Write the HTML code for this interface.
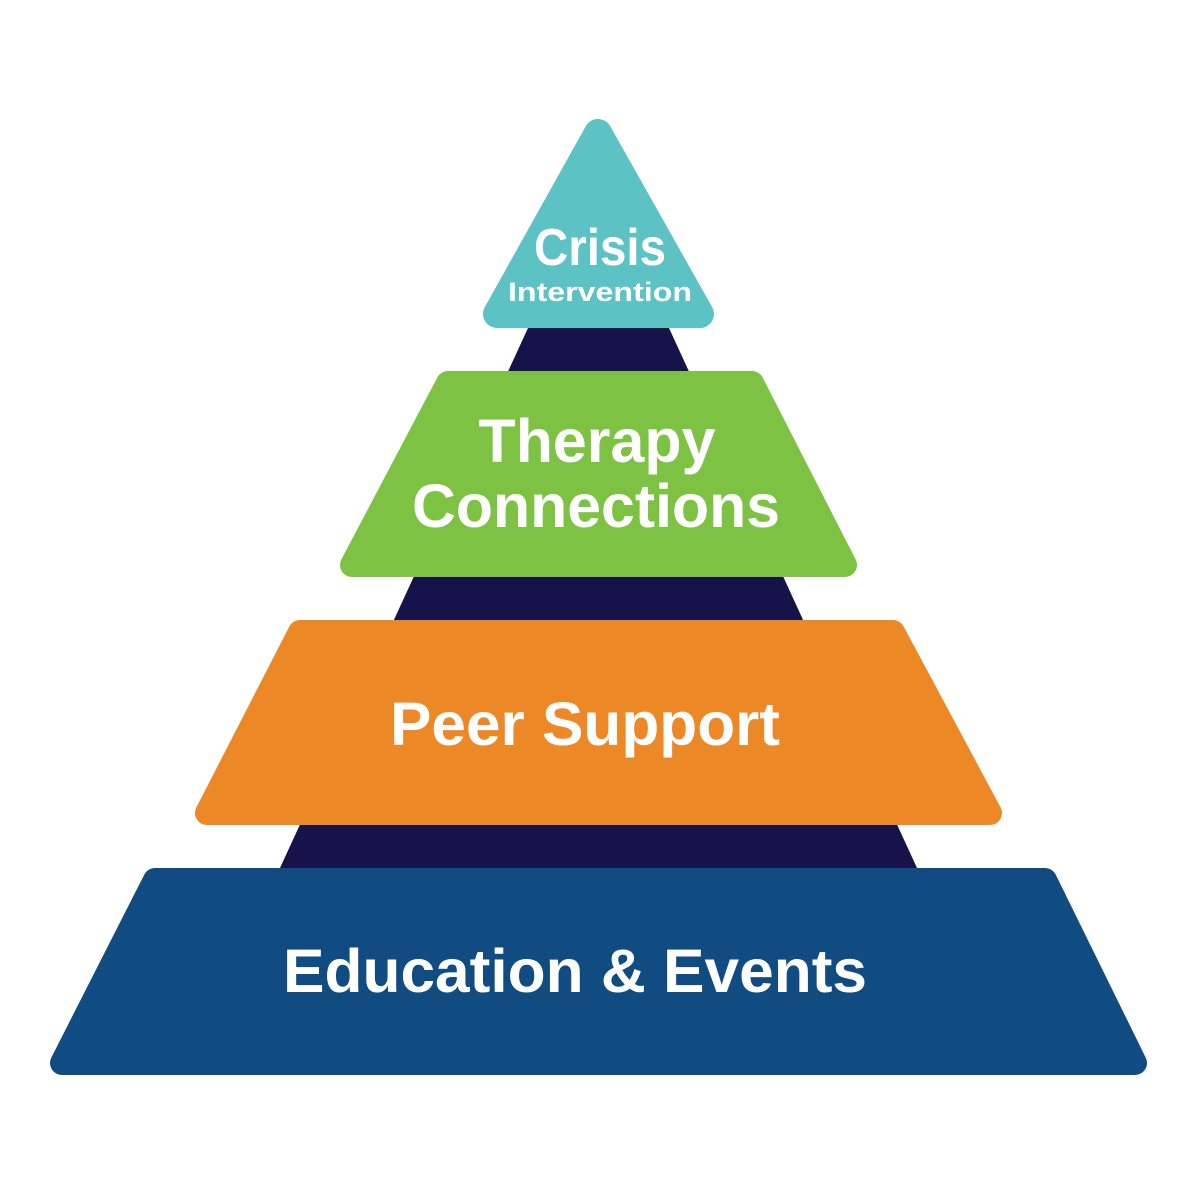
<!DOCTYPE html>
<html><head><meta charset="utf-8"><style>
html,body{margin:0;padding:0;background:#fff;}
svg{display:block;}
text{font-family:"Liberation Sans",sans-serif;font-weight:bold;fill:#fff;text-anchor:middle;}
</style></head><body>
<svg width="1201" height="1195" viewBox="0 0 1201 1195" xmlns="http://www.w3.org/2000/svg">
<polygon points="528,328 669,328 917,868 280,868" fill="#15134a"/>
<polygon points="598,133 700,314 497,314" fill="#5cc2c4" stroke="#5cc2c4" stroke-width="28" stroke-linejoin="round"/>
<polygon points="448,383 752,383 845,565 352,565" fill="#7dc242" stroke="#7dc242" stroke-width="24" stroke-linejoin="round"/>
<polygon points="300,632 893,632 990,813 207,813" fill="#ec8825" stroke="#ec8825" stroke-width="24" stroke-linejoin="round"/>
<polygon points="155,880 1045,880 1135,1063 62,1063" fill="#104c82" stroke="#104c82" stroke-width="24" stroke-linejoin="round"/>
<text x="600" y="265" font-size="52" textLength="132" lengthAdjust="spacingAndGlyphs">Crisis</text>
<text x="600" y="301" font-size="27" textLength="184" lengthAdjust="spacingAndGlyphs">Intervention</text>
<text x="597" y="462" font-size="61" textLength="237" lengthAdjust="spacingAndGlyphs">Therapy</text>
<text x="596" y="527" font-size="61" textLength="368" lengthAdjust="spacingAndGlyphs">Connections</text>
<text x="585" y="745" font-size="61" textLength="390" lengthAdjust="spacingAndGlyphs">Peer Support</text>
<text x="575" y="992" font-size="61" textLength="584" lengthAdjust="spacingAndGlyphs">Education &amp; Events</text>
</svg>
</body></html>
